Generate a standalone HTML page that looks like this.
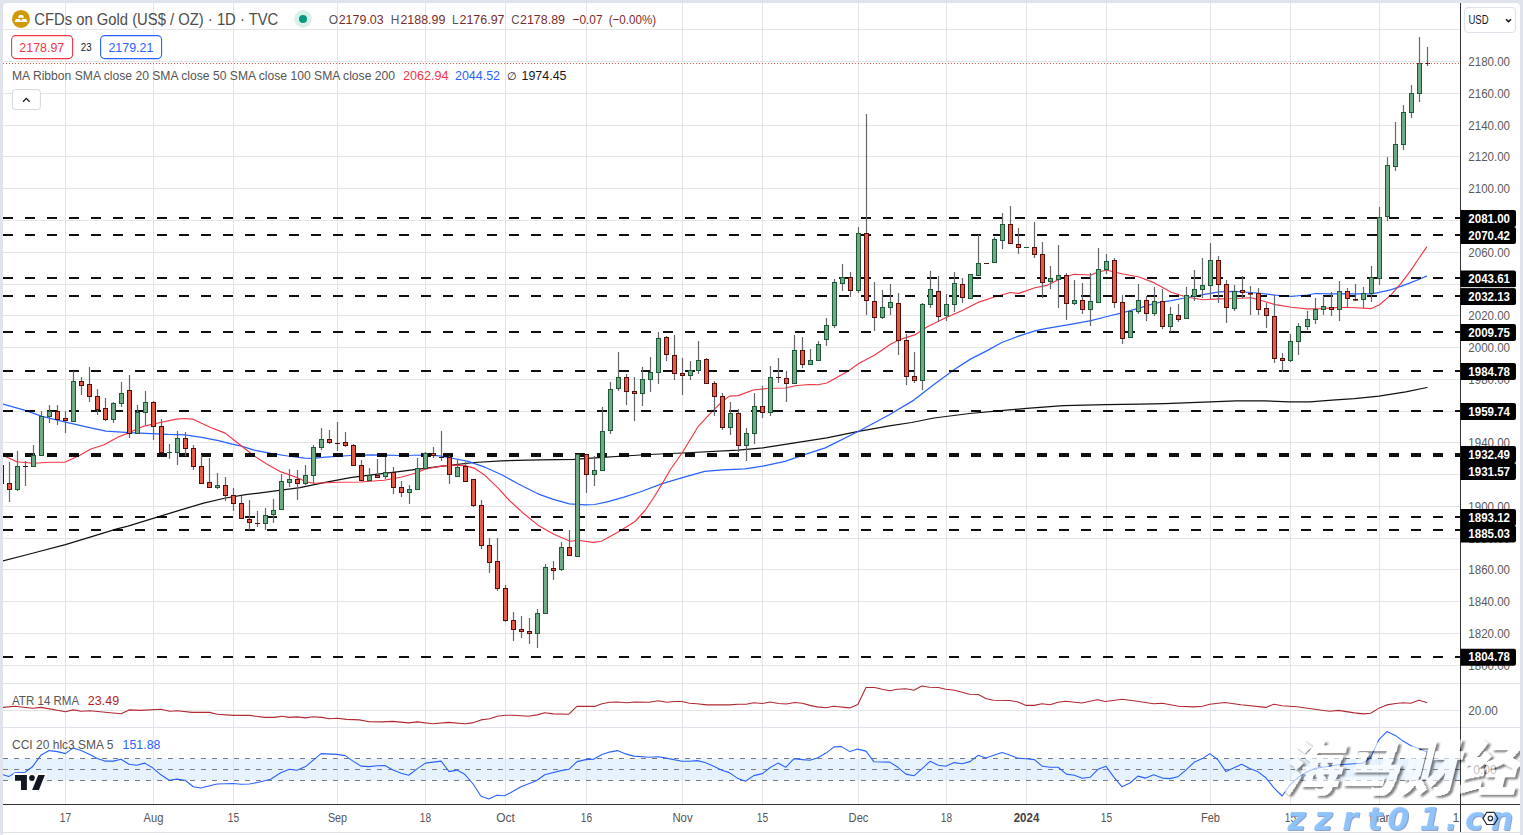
<!DOCTYPE html>
<html lang="en"><head><meta charset="utf-8"><title>CFDs on Gold (US$ / OZ) 1D TVC</title>
<style>html,body{margin:0;padding:0;background:#e0e3eb;width:1523px;height:835px;overflow:hidden}svg{display:block}</style></head>
<body>
<svg width="1523" height="835" viewBox="0 0 1523 835" font-family='"Liberation Sans", Arial, sans-serif'>
<defs><clipPath id="cp"><rect x="3" y="3" width="1457.5" height="801.5"/></clipPath><clipPath id="cw"><rect x="3" y="3" width="1517" height="832"/></clipPath></defs>
<rect width="1523" height="835" fill="#e0e3eb"/>
<path d="M3 835V7a4 4 0 0 1 4-4H1516a4 4 0 0 1 4 4V835z" fill="#fff"/>
<line x1="3" y1="832.5" x2="1520" y2="832.5" stroke="#e0e3eb" stroke-width="1.2"/>
<g stroke="#e5e5e5" stroke-width="1" clip-path="url(#cp)">
<line x1="65.5" y1="3" x2="65.5" y2="804.5"/>
<line x1="153.5" y1="3" x2="153.5" y2="804.5"/>
<line x1="233.5" y1="3" x2="233.5" y2="804.5"/>
<line x1="337.5" y1="3" x2="337.5" y2="804.5"/>
<line x1="425.5" y1="3" x2="425.5" y2="804.5"/>
<line x1="505.5" y1="3" x2="505.5" y2="804.5"/>
<line x1="586.5" y1="3" x2="586.5" y2="804.5"/>
<line x1="682.5" y1="3" x2="682.5" y2="804.5"/>
<line x1="762.5" y1="3" x2="762.5" y2="804.5"/>
<line x1="858.5" y1="3" x2="858.5" y2="804.5"/>
<line x1="946.5" y1="3" x2="946.5" y2="804.5"/>
<line x1="1026.5" y1="3" x2="1026.5" y2="804.5"/>
<line x1="1106.5" y1="3" x2="1106.5" y2="804.5"/>
<line x1="1210.5" y1="3" x2="1210.5" y2="804.5"/>
<line x1="1290.5" y1="3" x2="1290.5" y2="804.5"/>
<line x1="1379.5" y1="3" x2="1379.5" y2="804.5"/>
<line x1="3" y1="665.5" x2="1460.5" y2="665.5"/>
<line x1="3" y1="633.5" x2="1460.5" y2="633.5"/>
<line x1="3" y1="601.5" x2="1460.5" y2="601.5"/>
<line x1="3" y1="569.5" x2="1460.5" y2="569.5"/>
<line x1="3" y1="538.5" x2="1460.5" y2="538.5"/>
<line x1="3" y1="506.5" x2="1460.5" y2="506.5"/>
<line x1="3" y1="474.5" x2="1460.5" y2="474.5"/>
<line x1="3" y1="442.5" x2="1460.5" y2="442.5"/>
<line x1="3" y1="411.5" x2="1460.5" y2="411.5"/>
<line x1="3" y1="379.5" x2="1460.5" y2="379.5"/>
<line x1="3" y1="347.5" x2="1460.5" y2="347.5"/>
<line x1="3" y1="315.5" x2="1460.5" y2="315.5"/>
<line x1="3" y1="284.5" x2="1460.5" y2="284.5"/>
<line x1="3" y1="252.5" x2="1460.5" y2="252.5"/>
<line x1="3" y1="220.5" x2="1460.5" y2="220.5"/>
<line x1="3" y1="188.5" x2="1460.5" y2="188.5"/>
<line x1="3" y1="156.5" x2="1460.5" y2="156.5"/>
<line x1="3" y1="125.5" x2="1460.5" y2="125.5"/>
<line x1="3" y1="93.5" x2="1460.5" y2="93.5"/>
<line x1="3" y1="61.5" x2="1460.5" y2="61.5"/>
<line x1="3" y1="29.5" x2="1460.5" y2="29.5"/>
<line x1="3" y1="710.5" x2="1460.5" y2="710.5"/>
</g>
<rect x="3" y="758.6" width="1457.5" height="21.7" fill="#e6f2fd"/>
<g stroke="#787b86" stroke-width="1" stroke-dasharray="5 6" clip-path="url(#cp)">
<line x1="3" y1="758.5" x2="1460.5" y2="758.5"/>
<line x1="3" y1="769.5" x2="1460.5" y2="769.5"/>
<line x1="3" y1="780.5" x2="1460.5" y2="780.5"/>
</g>
<g stroke="#d9dde3" stroke-width="1" opacity="0.7">
<line x1="65.5" y1="758.6" x2="65.5" y2="780.3"/>
<line x1="153.5" y1="758.6" x2="153.5" y2="780.3"/>
<line x1="233.5" y1="758.6" x2="233.5" y2="780.3"/>
<line x1="337.5" y1="758.6" x2="337.5" y2="780.3"/>
<line x1="425.5" y1="758.6" x2="425.5" y2="780.3"/>
<line x1="505.5" y1="758.6" x2="505.5" y2="780.3"/>
<line x1="586.5" y1="758.6" x2="586.5" y2="780.3"/>
<line x1="682.5" y1="758.6" x2="682.5" y2="780.3"/>
<line x1="762.5" y1="758.6" x2="762.5" y2="780.3"/>
<line x1="858.5" y1="758.6" x2="858.5" y2="780.3"/>
<line x1="946.5" y1="758.6" x2="946.5" y2="780.3"/>
<line x1="1026.5" y1="758.6" x2="1026.5" y2="780.3"/>
<line x1="1106.5" y1="758.6" x2="1106.5" y2="780.3"/>
<line x1="1210.5" y1="758.6" x2="1210.5" y2="780.3"/>
<line x1="1290.5" y1="758.6" x2="1290.5" y2="780.3"/>
<line x1="1379.5" y1="758.6" x2="1379.5" y2="780.3"/>
</g>
<g stroke="#e0e3eb" stroke-width="1.2"><line x1="3" y1="683.5" x2="1520" y2="683.5"/><line x1="3" y1="727.5" x2="1520" y2="727.5"/></g>
<g clip-path="url(#cp)">
<path d="M2.9 560.8 L33.5 553.0 L65.4 544.7 L89.3 537.3 L116.1 529.1 L128.0 526.1 L153.2 518.4 L178.4 510.6 L203.6 503.2 L225.5 498.0 L245.7 494.6 L256.7 493.3 L279.3 490.4 L300.0 487.7 L325.2 482.4 L350.4 477.7 L375.6 474.3 L400.9 471.4 L426.1 468.1 L451.3 465.1 L474.1 462.5 L501.7 460.9 L526.9 460.2 L556.0 459.7 L573.6 459.3 L598.8 457.6 L624.0 456.0 L649.2 454.5 L682.4 453.0 L738.2 450.1 L762.8 447.9 L796.3 442.6 L826.8 437.8 L858.5 431.4 L889.3 425.8 L911.6 422.5 L934.0 418.0 L969.7 413.5 L1000.9 410.6 L1026.6 408.4 L1063.4 405.7 L1105.9 404.6 L1140.0 404.2 L1164.7 403.6 L1210.4 401.8 L1236.1 400.9 L1265.1 400.9 L1289.7 401.8 L1309.8 401.8 L1332.1 400.2 L1354.4 398.7 L1379.0 396.2 L1405.8 391.8 L1427.0 387.5" fill="none" stroke="#111" stroke-width="1.25" stroke-linejoin="round" stroke-linecap="round" />
<path d="M3.0 404.2 L25.2 410.4 L42.0 416.3 L65.6 422.2 L87.4 427.2 L105.9 431.1 L129.4 432.6 L151.3 433.6 L168.1 434.4 L184.9 434.8 L201.7 437.3 L218.5 440.6 L232.2 444.2 L241.6 446.2 L254.1 450.1 L270.9 453.4 L287.7 456.0 L304.5 458.2 L312.9 458.4 L325.2 457.2 L350.4 455.5 L370.6 454.8 L384.0 455.2 L400.9 455.5 L426.1 455.0 L439.5 455.8 L451.3 458.0 L468.1 461.4 L484.9 467.2 L501.7 474.8 L518.5 484.0 L535.3 492.5 L540.0 494.6 L552.6 499.2 L569.4 503.9 L586.2 504.9 L594.6 504.5 L607.2 501.8 L624.0 497.1 L640.0 492.0 L662.3 483.6 L682.4 477.6 L704.7 471.4 L722.6 469.8 L744.9 468.8 L762.8 466.2 L785.1 461.3 L803.0 455.1 L825.3 447.9 L858.6 431.3 L889.3 414.7 L913.9 400.1 L934.0 384.5 L954.7 369.3 L970.9 358.9 L986.7 350.9 L1001.8 342.5 L1018.6 336.2 L1034.9 330.8 L1046.8 328.3 L1072.0 324.1 L1091.0 320.7 L1107.0 316.5 L1123.1 312.7 L1139.1 308.1 L1155.1 303.1 L1171.2 300.6 L1187.2 297.5 L1203.1 294.7 L1219.1 291.8 L1235.2 291.3 L1251.2 292.5 L1267.2 294.2 L1275.3 295.1 L1291.3 296.3 L1307.4 295.0 L1315.3 293.5 L1331.4 293.8 L1355.5 293.8 L1371.4 293.8 L1379.5 292.4 L1391.3 289.6 L1401.4 286.2 L1411.5 282.4 L1419.9 279.0 L1426.6 276.1" fill="none" stroke="#2962ff" stroke-width="1.25" stroke-linejoin="round" stroke-linecap="round" />
<path d="M3.0 455.3 L16.8 461.7 L33.6 463.3 L50.4 462.2 L64.7 462.2 L79.0 455.8 L90.8 449.0 L104.2 444.8 L117.7 437.3 L129.4 432.6 L142.9 426.4 L161.5 422.2 L176.5 419.1 L184.9 418.5 L192.5 419.1 L210.1 427.2 L225.2 433.1 L233.9 440.0 L245.7 449.2 L254.1 456.0 L267.5 464.4 L281.0 471.9 L296.1 477.3 L306.2 481.7 L313.4 483.2 L337.8 482.2 L360.0 482.0 L384.0 480.2 L400.9 477.3 L414.3 473.5 L426.1 468.9 L439.5 466.4 L451.3 465.1 L464.7 465.6 L474.1 468.1 L484.9 475.3 L498.4 488.3 L508.9 500.0 L524.0 513.8 L539.2 526.1 L554.3 534.5 L570.3 541.2 L577.8 540.3 L593.0 542.4 L601.4 541.2 L618.2 531.9 L635.0 521.5 L645.0 510.5 L653.5 498.0 L662.3 483.6 L670.1 470.0 L682.4 452.5 L698.0 426.7 L711.3 412.4 L721.4 402.3 L729.4 396.1 L738.2 395.6 L753.3 390.0 L770.1 388.3 L785.2 388.0 L795.3 385.8 L808.8 384.5 L817.9 384.8 L826.8 383.0 L848.8 370.7 L858.6 363.5 L874.0 355.6 L890.9 344.1 L898.8 339.9 L914.7 334.9 L927.8 326.5 L946.8 317.2 L962.8 310.2 L978.9 302.1 L995.1 296.7 L1010.2 292.5 L1018.9 293.4 L1034.9 287.8 L1046.8 285.4 L1058.9 279.5 L1073.7 274.2 L1091.0 275.0 L1099.1 271.6 L1107.0 270.3 L1123.1 274.0 L1139.1 277.0 L1154.4 282.9 L1171.2 292.2 L1187.2 297.2 L1203.1 299.7 L1219.1 298.9 L1235.2 298.5 L1251.2 297.7 L1259.3 300.0 L1275.3 304.6 L1291.3 307.2 L1307.4 308.9 L1323.4 308.6 L1339.3 307.2 L1355.5 307.7 L1371.4 308.6 L1379.5 304.7 L1391.3 294.6 L1401.4 282.9 L1411.5 269.4 L1419.9 256.8 L1426.6 247.2" fill="none" stroke="#f23645" stroke-width="1.15" stroke-linejoin="round" stroke-linecap="round" />
<path d="M3.2 707.4 L15.0 706.2 L32.4 708.2 L41.2 707.4 L65.4 711.7 L73.1 709.9 L81.1 711.2 L89.8 710.7 L121.0 713.7 L129.0 709.9 L139.7 710.4 L160.9 709.2 L169.7 711.2 L177.1 710.7 L192.1 712.4 L209.6 712.4 L217.1 714.2 L233.3 715.4 L249.5 715.4 L264.5 717.4 L274.5 717.4 L281.9 716.2 L289.4 717.4 L296.9 716.9 L305.6 717.9 L313.1 716.7 L321.9 717.4 L329.3 718.7 L336.8 718.2 L346.8 719.4 L359.3 719.9 L369.3 721.7 L382.5 721.9 L392.5 721.4 L408.7 722.9 L417.4 721.9 L432.4 723.7 L448.6 722.4 L464.8 723.7 L472.3 722.9 L481.0 719.9 L489.8 718.7 L497.2 716.2 L506.0 715.2 L513.5 715.2 L528.4 716.2 L537.2 714.9 L544.7 712.7 L553.4 713.9 L568.9 714.2 L577.1 706.2 L594.6 706.4 L602.0 703.7 L609.5 702.2 L617.0 702.0 L627.0 702.7 L634.5 702.0 L649.4 702.2 L658.2 700.7 L666.9 702.2 L674.4 701.5 L681.9 701.5 L689.4 703.2 L696.8 703.7 L706.8 704.9 L719.3 704.7 L729.3 704.9 L738.0 704.2 L746.2 704.2 L753.7 702.7 L762.5 703.5 L769.9 702.0 L778.7 703.5 L786.2 704.0 L794.9 702.5 L802.4 703.2 L809.9 705.4 L817.3 706.9 L826.1 707.7 L833.6 706.2 L849.8 707.9 L857.8 704.5 L866.0 687.5 L874.7 687.5 L882.2 689.2 L889.7 690.7 L897.2 689.2 L905.9 688.7 L913.9 690.2 L921.6 686.0 L929.6 687.2 L938.3 687.5 L945.8 689.2 L954.6 690.2 L969.5 694.2 L978.3 694.5 L985.8 698.5 L993.2 700.2 L1009.5 700.5 L1017.4 701.7 L1026.2 705.4 L1034.4 705.4 L1041.9 703.7 L1050.1 704.7 L1058.1 702.2 L1065.6 701.2 L1081.8 703.0 L1097.3 699.7 L1105.5 701.5 L1122.0 699.2 L1137.4 701.2 L1153.6 703.7 L1162.4 703.2 L1178.6 706.2 L1193.6 706.9 L1202.3 706.2 L1209.8 704.2 L1224.8 702.5 L1241.0 704.7 L1265.9 707.4 L1273.9 704.2 L1282.1 705.7 L1297.1 706.7 L1314.6 709.2 L1329.5 711.2 L1338.3 710.4 L1354.5 712.9 L1363.2 713.9 L1370.7 713.2 L1379.4 707.9 L1386.9 704.9 L1395.7 703.5 L1403.1 702.7 L1410.6 703.2 L1418.9 700.2 L1426.8 702.5" fill="none" stroke="#b22833" stroke-width="1.1" stroke-linejoin="round" stroke-linecap="round" />
<path d="M3.2 774.8 L8.7 776.6 L15.0 772.8 L25.0 772.3 L32.4 766.8 L41.2 754.9 L49.2 750.6 L57.4 751.6 L65.4 753.6 L73.1 747.9 L81.1 750.4 L89.8 754.4 L97.3 758.6 L104.8 761.1 L113.5 761.1 L121.0 759.3 L129.0 764.3 L136.7 765.3 L144.7 763.1 L152.7 767.8 L160.9 774.8 L169.2 780.3 L177.1 779.1 L185.1 780.3 L193.4 786.8 L200.8 788.0 L217.1 784.0 L233.3 783.5 L240.8 784.3 L249.5 784.0 L260.7 781.8 L270.7 779.3 L280.7 772.8 L289.4 769.3 L296.9 770.3 L305.6 766.6 L321.1 753.6 L336.8 754.4 L345.1 755.6 L353.0 761.1 L361.0 766.1 L369.3 766.6 L377.5 765.8 L385.0 765.6 L392.5 769.8 L401.2 773.3 L408.7 775.3 L417.4 768.6 L425.4 763.1 L441.1 761.1 L449.1 771.6 L456.8 770.1 L464.8 774.3 L472.8 783.5 L481.0 796.3 L489.0 799.0 L496.7 795.3 L504.7 795.8 L512.7 791.5 L520.9 786.8 L536.4 780.8 L544.7 774.8 L560.9 770.6 L568.9 769.3 L577.1 761.6 L585.8 759.6 L593.8 759.1 L602.0 754.6 L609.5 752.1 L617.5 750.6 L625.7 753.9 L633.7 756.1 L649.4 757.3 L658.2 756.8 L666.2 758.1 L681.9 761.3 L689.4 761.3 L697.3 760.6 L705.6 762.8 L714.3 766.6 L721.8 770.3 L729.3 772.6 L738.0 778.6 L745.5 781.2 L753.7 775.6 L762.5 773.6 L769.9 767.8 L777.9 763.1 L785.7 767.3 L794.1 758.6 L802.4 759.6 L809.9 760.3 L817.8 757.8 L826.1 753.1 L834.1 746.9 L841.5 746.6 L849.8 751.6 L857.8 749.1 L866.0 751.1 L874.0 761.8 L889.7 762.1 L897.9 767.3 L905.9 774.1 L913.9 775.8 L921.6 769.1 L930.1 761.3 L938.3 765.3 L945.8 766.3 L954.1 762.6 L962.1 763.8 L970.0 761.6 L978.3 755.3 L985.8 758.1 L1002.0 752.4 L1009.5 754.9 L1017.4 758.1 L1026.2 758.8 L1034.4 759.6 L1042.4 766.3 L1050.1 767.3 L1058.1 767.3 L1066.4 774.1 L1074.3 775.3 L1082.3 778.3 L1090.0 777.3 L1098.0 769.3 L1106.0 766.3 L1113.7 776.8 L1122.0 786.8 L1129.9 783.0 L1137.9 776.1 L1145.7 778.1 L1153.6 774.8 L1162.4 778.1 L1169.9 778.6 L1177.8 776.8 L1186.1 769.8 L1194.1 762.3 L1202.3 758.6 L1209.8 753.6 L1217.8 759.8 L1226.0 771.6 L1241.7 764.3 L1249.7 768.6 L1257.7 771.6 L1265.9 777.8 L1273.9 787.8 L1282.1 796.0 L1290.1 784.8 L1298.4 777.3 L1306.3 772.3 L1314.6 768.6 L1322.1 767.3 L1338.3 764.8 L1354.5 763.8 L1363.2 763.1 L1370.7 757.3 L1378.7 739.9 L1386.9 731.6 L1395.2 735.4 L1403.1 741.1 L1410.6 745.4 L1418.9 748.6 L1426.8 751.9" fill="none" stroke="#2962ff" stroke-width="1.1" stroke-linejoin="round" stroke-linecap="round" />
</g>
<g stroke="#000" stroke-opacity="0.94" stroke-dasharray="10 12" clip-path="url(#cp)">
<line x1="3" y1="218" x2="1460.5" y2="218" stroke-width="2"/>
<line x1="3" y1="235" x2="1460.5" y2="235" stroke-width="2"/>
<line x1="3" y1="278" x2="1460.5" y2="278" stroke-width="2"/>
<line x1="3" y1="296" x2="1460.5" y2="296" stroke-width="2"/>
<line x1="3" y1="332" x2="1460.5" y2="332" stroke-width="2"/>
<line x1="3" y1="371" x2="1460.5" y2="371" stroke-width="2"/>
<line x1="3" y1="411" x2="1460.5" y2="411" stroke-width="2"/>
<line x1="3" y1="455" x2="1460.5" y2="455" stroke-width="4"/>
<line x1="3" y1="517" x2="1460.5" y2="517" stroke-width="2"/>
<line x1="3" y1="530" x2="1460.5" y2="530" stroke-width="2"/>
<line x1="3" y1="657" x2="1460.5" y2="657" stroke-width="2"/>
</g>
<g clip-path="url(#cp)">
<path d="M1.5 462V486M9.5 462V502M17.5 451V491M25.5 461V486M33.5 445V467M41.5 411V456M49.5 405V423M57.5 405V425M65.5 411V433M73.5 371V422M81.5 377V395M89.5 367V402M97.5 389V415M105.5 398V421M113.5 402V423M121.5 382V407M129.5 375V438M137.5 405V434M145.5 391V425M153.5 401V440M161.5 419V453M169.5 444V459M177.5 431V465M185.5 432V456M193.5 445V470M201.5 455V484M209.5 458V488M217.5 473V489M225.5 477V501M233.5 488V511M241.5 496V519M249.5 500V530M257.5 511V527M265.5 508V530M273.5 499V523M281.5 474V510M289.5 469V487M297.5 470V500M305.5 465V485M313.5 445V483M321.5 428V450M329.5 430V444M337.5 422V451M345.5 432V447M353.5 444V466M361.5 460V481M369.5 468V481M377.5 459V478M385.5 457V479M393.5 467V494M401.5 481V497M409.5 485V504M417.5 458V490M425.5 452V469M433.5 447V458M441.5 431V461M449.5 456V484M457.5 460V477M465.5 462V482M473.5 479V507M481.5 500V549M489.5 538V573M497.5 538V591M505.5 585V622M513.5 612V641M521.5 616V638M529.5 618V644M537.5 609V648M545.5 564V614M553.5 561V580M561.5 542V571M569.5 530V556M577.5 454V557M586.5 454V493M594.5 456V486M602.5 407V471M610.5 382V434M618.5 352V391M626.5 374V405M634.5 377V421M642.5 367V406M650.5 357V392M658.5 332V384M666.5 336V361M674.5 335V380M682.5 358V395M690.5 361V380M698.5 341V374M706.5 358V384M714.5 381V416M722.5 393V430M730.5 402V435M738.5 409V452M746.5 428V461M754.5 393V444M762.5 386V418M770.5 366V416M778.5 358V383M786.5 371V402M794.5 335V384M802.5 337V368M810.5 349V365M818.5 341V361M826.5 318V346M834.5 279V328M842.5 264V291M850.5 272V297M858.5 227V293M866.5 114V315M874.5 282V331M882.5 290V319M890.5 284V315M898.5 293V355M906.5 334V385M914.5 352V383M922.5 303V390M930.5 271V308M938.5 276V322M946.5 294V321M954.5 272V312M962.5 278V303M970.5 274V299M978.5 235V276M986.5 263V264M994.5 237V263M1002.5 213V249M1010.5 206V244M1018.5 228V254M1026.5 247V248M1034.5 222V258M1042.5 242V298M1050.5 266V289M1058.5 245V308M1066.5 273V320M1074.5 280V305M1082.5 283V314M1090.5 273V326M1098.5 248V303M1106.5 254V274M1114.5 258V308M1122.5 295V344M1130.5 311V338M1138.5 284V314M1146.5 296V321M1154.5 287V316M1162.5 289V329M1170.5 307V332M1178.5 304V322M1186.5 287V319M1194.5 270V301M1202.5 258V298M1210.5 243V299M1218.5 256V303M1226.5 280V323M1234.5 285V311M1242.5 276V298M1250.5 286V315M1258.5 288V315M1266.5 303V328M1274.5 295V363M1282.5 353V372M1290.5 334V362M1298.5 323V355M1307.5 311V330M1315.5 298V324M1323.5 296V315M1331.5 292V316M1339.5 281V321M1347.5 288V307M1355.5 284V301M1363.5 287V308M1371.5 266V302M1379.5 207V285M1387.5 157V221M1395.5 122V171M1403.5 105V150M1411.5 85V118M1419.5 37V102M1427.5 47V66" stroke="#64686c" stroke-width="1.2" fill="none"/>
<rect x="-0.5" y="465.5" width="4" height="18" fill="#e35b47" stroke="#550d0b" stroke-width="1"/><rect x="7.5" y="483.5" width="4" height="6" fill="#e35b47" stroke="#550d0b" stroke-width="1"/><rect x="15.5" y="466.5" width="4" height="23" fill="#6fa985" stroke="#1c5a36" stroke-width="1"/><rect x="23.0" y="466" width="5" height="1" fill="#550d0b"/><rect x="31.5" y="455.5" width="4" height="11" fill="#6fa985" stroke="#1c5a36" stroke-width="1"/><rect x="39.5" y="416.5" width="4" height="39" fill="#6fa985" stroke="#1c5a36" stroke-width="1"/><rect x="47.5" y="411.5" width="4" height="5" fill="#6fa985" stroke="#1c5a36" stroke-width="1"/><rect x="55.5" y="411.5" width="4" height="8" fill="#e35b47" stroke="#550d0b" stroke-width="1"/><rect x="63.5" y="418.5" width="4" height="2" fill="#e35b47" stroke="#550d0b" stroke-width="1"/><rect x="71.5" y="381.5" width="4" height="40" fill="#6fa985" stroke="#1c5a36" stroke-width="1"/><rect x="79.5" y="381.5" width="4" height="4" fill="#e35b47" stroke="#550d0b" stroke-width="1"/><rect x="87.5" y="384.5" width="4" height="12" fill="#e35b47" stroke="#550d0b" stroke-width="1"/><rect x="95.5" y="396.5" width="4" height="13" fill="#e35b47" stroke="#550d0b" stroke-width="1"/><rect x="103.5" y="408.5" width="4" height="11" fill="#e35b47" stroke="#550d0b" stroke-width="1"/><rect x="111.5" y="403.5" width="4" height="16" fill="#6fa985" stroke="#1c5a36" stroke-width="1"/><rect x="119.5" y="393.5" width="4" height="10" fill="#6fa985" stroke="#1c5a36" stroke-width="1"/><rect x="127.5" y="390.5" width="4" height="43" fill="#e35b47" stroke="#550d0b" stroke-width="1"/><rect x="135.5" y="412.5" width="4" height="21" fill="#6fa985" stroke="#1c5a36" stroke-width="1"/><rect x="143.5" y="402.5" width="4" height="10" fill="#6fa985" stroke="#1c5a36" stroke-width="1"/><rect x="151.5" y="402.5" width="4" height="24" fill="#e35b47" stroke="#550d0b" stroke-width="1"/><rect x="159.5" y="426.5" width="4" height="26" fill="#e35b47" stroke="#550d0b" stroke-width="1"/><rect x="167.0" y="452" width="5" height="1" fill="#1c5a36"/><rect x="175.5" y="438.5" width="4" height="14" fill="#6fa985" stroke="#1c5a36" stroke-width="1"/><rect x="183.5" y="438.5" width="4" height="10" fill="#e35b47" stroke="#550d0b" stroke-width="1"/><rect x="191.5" y="448.5" width="4" height="18" fill="#e35b47" stroke="#550d0b" stroke-width="1"/><rect x="199.5" y="466.5" width="4" height="17" fill="#e35b47" stroke="#550d0b" stroke-width="1"/><rect x="207.5" y="482.5" width="4" height="5" fill="#e35b47" stroke="#550d0b" stroke-width="1"/><rect x="215.5" y="485.5" width="4" height="2" fill="#6fa985" stroke="#1c5a36" stroke-width="1"/><rect x="223.5" y="485.5" width="4" height="10" fill="#e35b47" stroke="#550d0b" stroke-width="1"/><rect x="231.5" y="495.5" width="4" height="8" fill="#e35b47" stroke="#550d0b" stroke-width="1"/><rect x="239.5" y="503.5" width="4" height="15" fill="#e35b47" stroke="#550d0b" stroke-width="1"/><rect x="247.5" y="519.5" width="4" height="3" fill="#e35b47" stroke="#550d0b" stroke-width="1"/><rect x="255.0" y="523" width="5" height="1" fill="#550d0b"/><rect x="263.5" y="515.5" width="4" height="8" fill="#6fa985" stroke="#1c5a36" stroke-width="1"/><rect x="271.5" y="510.5" width="4" height="4" fill="#6fa985" stroke="#1c5a36" stroke-width="1"/><rect x="279.5" y="481.5" width="4" height="28" fill="#6fa985" stroke="#1c5a36" stroke-width="1"/><rect x="287.5" y="479.5" width="4" height="3" fill="#6fa985" stroke="#1c5a36" stroke-width="1"/><rect x="295.5" y="479.5" width="4" height="4" fill="#e35b47" stroke="#550d0b" stroke-width="1"/><rect x="303.5" y="475.5" width="4" height="8" fill="#6fa985" stroke="#1c5a36" stroke-width="1"/><rect x="311.5" y="447.5" width="4" height="28" fill="#6fa985" stroke="#1c5a36" stroke-width="1"/><rect x="319.5" y="439.5" width="4" height="8" fill="#6fa985" stroke="#1c5a36" stroke-width="1"/><rect x="327.5" y="439.5" width="4" height="3" fill="#e35b47" stroke="#550d0b" stroke-width="1"/><rect x="335.0" y="443" width="5" height="1" fill="#550d0b"/><rect x="343.5" y="442.5" width="4" height="3" fill="#e35b47" stroke="#550d0b" stroke-width="1"/><rect x="351.5" y="445.5" width="4" height="20" fill="#e35b47" stroke="#550d0b" stroke-width="1"/><rect x="359.5" y="465.5" width="4" height="15" fill="#e35b47" stroke="#550d0b" stroke-width="1"/><rect x="367.5" y="475.5" width="4" height="5" fill="#6fa985" stroke="#1c5a36" stroke-width="1"/><rect x="375.5" y="475.5" width="4" height="2" fill="#e35b47" stroke="#550d0b" stroke-width="1"/><rect x="383.5" y="472.5" width="4" height="4" fill="#6fa985" stroke="#1c5a36" stroke-width="1"/><rect x="391.5" y="472.5" width="4" height="15" fill="#e35b47" stroke="#550d0b" stroke-width="1"/><rect x="399.5" y="487.5" width="4" height="5" fill="#e35b47" stroke="#550d0b" stroke-width="1"/><rect x="407.5" y="489.5" width="4" height="3" fill="#6fa985" stroke="#1c5a36" stroke-width="1"/><rect x="415.5" y="468.5" width="4" height="21" fill="#6fa985" stroke="#1c5a36" stroke-width="1"/><rect x="423.5" y="453.5" width="4" height="15" fill="#6fa985" stroke="#1c5a36" stroke-width="1"/><rect x="431.5" y="453.5" width="4" height="2" fill="#e35b47" stroke="#550d0b" stroke-width="1"/><rect x="439.0" y="457" width="5" height="1" fill="#550d0b"/><rect x="447.5" y="457.5" width="4" height="17" fill="#e35b47" stroke="#550d0b" stroke-width="1"/><rect x="455.5" y="467.5" width="4" height="9" fill="#6fa985" stroke="#1c5a36" stroke-width="1"/><rect x="463.5" y="466.5" width="4" height="15" fill="#e35b47" stroke="#550d0b" stroke-width="1"/><rect x="471.5" y="479.5" width="4" height="26" fill="#e35b47" stroke="#550d0b" stroke-width="1"/><rect x="479.5" y="505.5" width="4" height="40" fill="#e35b47" stroke="#550d0b" stroke-width="1"/><rect x="487.5" y="545.5" width="4" height="17" fill="#e35b47" stroke="#550d0b" stroke-width="1"/><rect x="495.5" y="561.5" width="4" height="27" fill="#e35b47" stroke="#550d0b" stroke-width="1"/><rect x="503.5" y="588.5" width="4" height="32" fill="#e35b47" stroke="#550d0b" stroke-width="1"/><rect x="511.5" y="620.5" width="4" height="9" fill="#e35b47" stroke="#550d0b" stroke-width="1"/><rect x="519.5" y="629.5" width="4" height="2" fill="#e35b47" stroke="#550d0b" stroke-width="1"/><rect x="527.5" y="631.5" width="4" height="2" fill="#e35b47" stroke="#550d0b" stroke-width="1"/><rect x="535.5" y="613.5" width="4" height="20" fill="#6fa985" stroke="#1c5a36" stroke-width="1"/><rect x="543.5" y="567.5" width="4" height="46" fill="#6fa985" stroke="#1c5a36" stroke-width="1"/><rect x="551.5" y="568.5" width="4" height="2" fill="#e35b47" stroke="#550d0b" stroke-width="1"/><rect x="559.5" y="547.5" width="4" height="22" fill="#6fa985" stroke="#1c5a36" stroke-width="1"/><rect x="567.5" y="547.5" width="4" height="8" fill="#e35b47" stroke="#550d0b" stroke-width="1"/><rect x="575.5" y="454.5" width="4" height="102" fill="#6fa985" stroke="#1c5a36" stroke-width="1"/><rect x="584.5" y="454.5" width="4" height="20" fill="#e35b47" stroke="#550d0b" stroke-width="1"/><rect x="592.5" y="470.5" width="4" height="4" fill="#6fa985" stroke="#1c5a36" stroke-width="1"/><rect x="600.5" y="431.5" width="4" height="39" fill="#6fa985" stroke="#1c5a36" stroke-width="1"/><rect x="608.5" y="389.5" width="4" height="41" fill="#6fa985" stroke="#1c5a36" stroke-width="1"/><rect x="616.5" y="377.5" width="4" height="11" fill="#6fa985" stroke="#1c5a36" stroke-width="1"/><rect x="624.5" y="377.5" width="4" height="14" fill="#e35b47" stroke="#550d0b" stroke-width="1"/><rect x="632.5" y="391.5" width="4" height="2" fill="#e35b47" stroke="#550d0b" stroke-width="1"/><rect x="640.5" y="379.5" width="4" height="14" fill="#6fa985" stroke="#1c5a36" stroke-width="1"/><rect x="648.5" y="372.5" width="4" height="7" fill="#6fa985" stroke="#1c5a36" stroke-width="1"/><rect x="656.5" y="338.5" width="4" height="34" fill="#6fa985" stroke="#1c5a36" stroke-width="1"/><rect x="664.5" y="337.5" width="4" height="17" fill="#e35b47" stroke="#550d0b" stroke-width="1"/><rect x="672.5" y="355.5" width="4" height="18" fill="#e35b47" stroke="#550d0b" stroke-width="1"/><rect x="680.5" y="373.5" width="4" height="2" fill="#e35b47" stroke="#550d0b" stroke-width="1"/><rect x="688.5" y="370.5" width="4" height="5" fill="#6fa985" stroke="#1c5a36" stroke-width="1"/><rect x="696.5" y="360.5" width="4" height="10" fill="#6fa985" stroke="#1c5a36" stroke-width="1"/><rect x="704.5" y="359.5" width="4" height="24" fill="#e35b47" stroke="#550d0b" stroke-width="1"/><rect x="712.5" y="383.5" width="4" height="13" fill="#e35b47" stroke="#550d0b" stroke-width="1"/><rect x="720.5" y="396.5" width="4" height="31" fill="#e35b47" stroke="#550d0b" stroke-width="1"/><rect x="728.5" y="413.5" width="4" height="14" fill="#6fa985" stroke="#1c5a36" stroke-width="1"/><rect x="736.5" y="413.5" width="4" height="32" fill="#e35b47" stroke="#550d0b" stroke-width="1"/><rect x="744.5" y="433.5" width="4" height="12" fill="#6fa985" stroke="#1c5a36" stroke-width="1"/><rect x="752.5" y="406.5" width="4" height="27" fill="#6fa985" stroke="#1c5a36" stroke-width="1"/><rect x="760.5" y="406.5" width="4" height="6" fill="#e35b47" stroke="#550d0b" stroke-width="1"/><rect x="768.5" y="377.5" width="4" height="35" fill="#6fa985" stroke="#1c5a36" stroke-width="1"/><rect x="776.0" y="377" width="5" height="1" fill="#550d0b"/><rect x="784.5" y="378.5" width="4" height="5" fill="#e35b47" stroke="#550d0b" stroke-width="1"/><rect x="792.5" y="350.5" width="4" height="33" fill="#6fa985" stroke="#1c5a36" stroke-width="1"/><rect x="800.5" y="350.5" width="4" height="14" fill="#e35b47" stroke="#550d0b" stroke-width="1"/><rect x="808.5" y="360.5" width="4" height="4" fill="#6fa985" stroke="#1c5a36" stroke-width="1"/><rect x="816.5" y="344.5" width="4" height="16" fill="#6fa985" stroke="#1c5a36" stroke-width="1"/><rect x="824.5" y="325.5" width="4" height="14" fill="#6fa985" stroke="#1c5a36" stroke-width="1"/><rect x="832.5" y="282.5" width="4" height="43" fill="#6fa985" stroke="#1c5a36" stroke-width="1"/><rect x="840.5" y="277.5" width="4" height="6" fill="#6fa985" stroke="#1c5a36" stroke-width="1"/><rect x="848.5" y="277.5" width="4" height="13" fill="#e35b47" stroke="#550d0b" stroke-width="1"/><rect x="856.5" y="233.5" width="4" height="57" fill="#6fa985" stroke="#1c5a36" stroke-width="1"/><rect x="864.5" y="233.5" width="4" height="67" fill="#e35b47" stroke="#550d0b" stroke-width="1"/><rect x="872.5" y="301.5" width="4" height="16" fill="#e35b47" stroke="#550d0b" stroke-width="1"/><rect x="880.5" y="307.5" width="4" height="10" fill="#6fa985" stroke="#1c5a36" stroke-width="1"/><rect x="888.5" y="302.5" width="4" height="5" fill="#6fa985" stroke="#1c5a36" stroke-width="1"/><rect x="896.5" y="303.5" width="4" height="37" fill="#e35b47" stroke="#550d0b" stroke-width="1"/><rect x="904.5" y="340.5" width="4" height="36" fill="#e35b47" stroke="#550d0b" stroke-width="1"/><rect x="912.5" y="376.5" width="4" height="4" fill="#e35b47" stroke="#550d0b" stroke-width="1"/><rect x="920.5" y="304.5" width="4" height="76" fill="#6fa985" stroke="#1c5a36" stroke-width="1"/><rect x="928.5" y="289.5" width="4" height="15" fill="#6fa985" stroke="#1c5a36" stroke-width="1"/><rect x="936.5" y="291.5" width="4" height="25" fill="#e35b47" stroke="#550d0b" stroke-width="1"/><rect x="944.5" y="304.5" width="4" height="11" fill="#6fa985" stroke="#1c5a36" stroke-width="1"/><rect x="952.5" y="283.5" width="4" height="21" fill="#6fa985" stroke="#1c5a36" stroke-width="1"/><rect x="960.5" y="284.5" width="4" height="13" fill="#e35b47" stroke="#550d0b" stroke-width="1"/><rect x="968.5" y="274.5" width="4" height="24" fill="#6fa985" stroke="#1c5a36" stroke-width="1"/><rect x="976.5" y="263.5" width="4" height="12" fill="#6fa985" stroke="#1c5a36" stroke-width="1"/><rect x="984.0" y="263" width="5" height="1" fill="#550d0b"/><rect x="992.5" y="239.5" width="4" height="23" fill="#6fa985" stroke="#1c5a36" stroke-width="1"/><rect x="1000.5" y="224.5" width="4" height="16" fill="#6fa985" stroke="#1c5a36" stroke-width="1"/><rect x="1008.5" y="224.5" width="4" height="19" fill="#e35b47" stroke="#550d0b" stroke-width="1"/><rect x="1016.5" y="244.5" width="4" height="3" fill="#e35b47" stroke="#550d0b" stroke-width="1"/><rect x="1024.0" y="247" width="5" height="1" fill="#1c5a36"/><rect x="1032.5" y="247.5" width="4" height="7" fill="#e35b47" stroke="#550d0b" stroke-width="1"/><rect x="1040.5" y="254.5" width="4" height="28" fill="#e35b47" stroke="#550d0b" stroke-width="1"/><rect x="1048.5" y="278.5" width="4" height="3" fill="#6fa985" stroke="#1c5a36" stroke-width="1"/><rect x="1056.5" y="275.5" width="4" height="4" fill="#6fa985" stroke="#1c5a36" stroke-width="1"/><rect x="1064.5" y="275.5" width="4" height="28" fill="#e35b47" stroke="#550d0b" stroke-width="1"/><rect x="1072.5" y="300.5" width="4" height="3" fill="#6fa985" stroke="#1c5a36" stroke-width="1"/><rect x="1080.5" y="300.5" width="4" height="9" fill="#e35b47" stroke="#550d0b" stroke-width="1"/><rect x="1088.5" y="301.5" width="4" height="8" fill="#6fa985" stroke="#1c5a36" stroke-width="1"/><rect x="1096.5" y="269.5" width="4" height="33" fill="#6fa985" stroke="#1c5a36" stroke-width="1"/><rect x="1104.5" y="261.5" width="4" height="8" fill="#6fa985" stroke="#1c5a36" stroke-width="1"/><rect x="1112.5" y="260.5" width="4" height="42" fill="#e35b47" stroke="#550d0b" stroke-width="1"/><rect x="1120.5" y="302.5" width="4" height="36" fill="#e35b47" stroke="#550d0b" stroke-width="1"/><rect x="1128.5" y="311.5" width="4" height="26" fill="#6fa985" stroke="#1c5a36" stroke-width="1"/><rect x="1136.5" y="300.5" width="4" height="11" fill="#6fa985" stroke="#1c5a36" stroke-width="1"/><rect x="1144.5" y="300.5" width="4" height="13" fill="#e35b47" stroke="#550d0b" stroke-width="1"/><rect x="1152.5" y="301.5" width="4" height="12" fill="#6fa985" stroke="#1c5a36" stroke-width="1"/><rect x="1160.5" y="301.5" width="4" height="25" fill="#e35b47" stroke="#550d0b" stroke-width="1"/><rect x="1168.5" y="314.5" width="4" height="12" fill="#6fa985" stroke="#1c5a36" stroke-width="1"/><rect x="1176.5" y="315.5" width="4" height="4" fill="#e35b47" stroke="#550d0b" stroke-width="1"/><rect x="1184.5" y="295.5" width="4" height="23" fill="#6fa985" stroke="#1c5a36" stroke-width="1"/><rect x="1192.5" y="289.5" width="4" height="7" fill="#6fa985" stroke="#1c5a36" stroke-width="1"/><rect x="1200.5" y="285.5" width="4" height="4" fill="#6fa985" stroke="#1c5a36" stroke-width="1"/><rect x="1208.5" y="260.5" width="4" height="25" fill="#6fa985" stroke="#1c5a36" stroke-width="1"/><rect x="1216.5" y="260.5" width="4" height="24" fill="#e35b47" stroke="#550d0b" stroke-width="1"/><rect x="1224.5" y="284.5" width="4" height="23" fill="#e35b47" stroke="#550d0b" stroke-width="1"/><rect x="1232.5" y="291.5" width="4" height="17" fill="#6fa985" stroke="#1c5a36" stroke-width="1"/><rect x="1240.5" y="290.5" width="4" height="2" fill="#e35b47" stroke="#550d0b" stroke-width="1"/><rect x="1248.0" y="293" width="5" height="1.6" fill="#550d0b"/><rect x="1256.5" y="293.5" width="4" height="16" fill="#e35b47" stroke="#550d0b" stroke-width="1"/><rect x="1264.5" y="308.5" width="4" height="7" fill="#e35b47" stroke="#550d0b" stroke-width="1"/><rect x="1272.5" y="316.5" width="4" height="42" fill="#e35b47" stroke="#550d0b" stroke-width="1"/><rect x="1280.5" y="358.5" width="4" height="2" fill="#e35b47" stroke="#550d0b" stroke-width="1"/><rect x="1288.5" y="341.5" width="4" height="19" fill="#6fa985" stroke="#1c5a36" stroke-width="1"/><rect x="1296.5" y="326.5" width="4" height="15" fill="#6fa985" stroke="#1c5a36" stroke-width="1"/><rect x="1305.5" y="319.5" width="4" height="7" fill="#6fa985" stroke="#1c5a36" stroke-width="1"/><rect x="1313.5" y="309.5" width="4" height="10" fill="#6fa985" stroke="#1c5a36" stroke-width="1"/><rect x="1321.5" y="306.5" width="4" height="3" fill="#6fa985" stroke="#1c5a36" stroke-width="1"/><rect x="1329.5" y="307.5" width="4" height="2" fill="#e35b47" stroke="#550d0b" stroke-width="1"/><rect x="1337.5" y="291.5" width="4" height="18" fill="#6fa985" stroke="#1c5a36" stroke-width="1"/><rect x="1345.5" y="291.5" width="4" height="7" fill="#e35b47" stroke="#550d0b" stroke-width="1"/><rect x="1353.0" y="299" width="5" height="1.6" fill="#550d0b"/><rect x="1361.5" y="293.5" width="4" height="6" fill="#6fa985" stroke="#1c5a36" stroke-width="1"/><rect x="1369.5" y="277.5" width="4" height="16" fill="#6fa985" stroke="#1c5a36" stroke-width="1"/><rect x="1377.5" y="217.5" width="4" height="61" fill="#6fa985" stroke="#1c5a36" stroke-width="1"/><rect x="1385.5" y="165.5" width="4" height="51" fill="#6fa985" stroke="#1c5a36" stroke-width="1"/><rect x="1393.5" y="144.5" width="4" height="22" fill="#6fa985" stroke="#1c5a36" stroke-width="1"/><rect x="1401.5" y="112.5" width="4" height="32" fill="#6fa985" stroke="#1c5a36" stroke-width="1"/><rect x="1409.5" y="93.5" width="4" height="19" fill="#6fa985" stroke="#1c5a36" stroke-width="1"/><rect x="1417.5" y="63.5" width="4" height="30" fill="#6fa985" stroke="#1c5a36" stroke-width="1"/><rect x="1425.0" y="63" width="5" height="1" fill="#550d0b"/>
</g>
<line x1="3" y1="63.5" x2="1460.5" y2="63.5" stroke="#ea5545" stroke-width="1" stroke-dasharray="1 2"/>
<line x1="3" y1="804.5" x2="1520" y2="804.5" stroke="#333" stroke-width="1"/>
<line x1="1460.5" y1="3" x2="1460.5" y2="832" stroke="#333" stroke-width="1"/>
<g font-size="12.3" fill="#5a5a5a">
<text x="1468.3" y="669.7" textLength="41.7" lengthAdjust="spacingAndGlyphs">1800.00</text>
<text x="1468.3" y="637.7" textLength="41.7" lengthAdjust="spacingAndGlyphs">1820.00</text>
<text x="1468.3" y="605.7" textLength="41.7" lengthAdjust="spacingAndGlyphs">1840.00</text>
<text x="1468.3" y="573.7" textLength="41.7" lengthAdjust="spacingAndGlyphs">1860.00</text>
<text x="1468.3" y="542.7" textLength="41.7" lengthAdjust="spacingAndGlyphs">1880.00</text>
<text x="1468.3" y="510.7" textLength="41.7" lengthAdjust="spacingAndGlyphs">1900.00</text>
<text x="1468.3" y="478.7" textLength="41.7" lengthAdjust="spacingAndGlyphs">1920.00</text>
<text x="1468.3" y="446.7" textLength="41.7" lengthAdjust="spacingAndGlyphs">1940.00</text>
<text x="1468.3" y="415.7" textLength="41.7" lengthAdjust="spacingAndGlyphs">1960.00</text>
<text x="1468.3" y="383.7" textLength="41.7" lengthAdjust="spacingAndGlyphs">1980.00</text>
<text x="1468.3" y="351.7" textLength="41.7" lengthAdjust="spacingAndGlyphs">2000.00</text>
<text x="1468.3" y="319.7" textLength="41.7" lengthAdjust="spacingAndGlyphs">2020.00</text>
<text x="1468.3" y="288.7" textLength="41.7" lengthAdjust="spacingAndGlyphs">2040.00</text>
<text x="1468.3" y="256.7" textLength="41.7" lengthAdjust="spacingAndGlyphs">2060.00</text>
<text x="1468.3" y="224.7" textLength="41.7" lengthAdjust="spacingAndGlyphs">2080.00</text>
<text x="1468.3" y="192.7" textLength="41.7" lengthAdjust="spacingAndGlyphs">2100.00</text>
<text x="1468.3" y="160.7" textLength="41.7" lengthAdjust="spacingAndGlyphs">2120.00</text>
<text x="1468.3" y="129.7" textLength="41.7" lengthAdjust="spacingAndGlyphs">2140.00</text>
<text x="1468.3" y="97.7" textLength="41.7" lengthAdjust="spacingAndGlyphs">2160.00</text>
<text x="1468.3" y="65.7" textLength="41.7" lengthAdjust="spacingAndGlyphs">2180.00</text>
<text x="1468.3" y="714.6" textLength="29.5" lengthAdjust="spacingAndGlyphs">20.00</text>
<text x="1473.3" y="773.6" textLength="23.5" lengthAdjust="spacingAndGlyphs">0.00</text>
</g>
<path d="M1460.5 210.0H1514a2 2 0 0 1 2 2v13a2 2 0 0 1 -2 2H1460.5z" fill="#000"/>
<path d="M1460.5 226.9H1514a2 2 0 0 1 2 2v13a2 2 0 0 1 -2 2H1460.5z" fill="#000"/>
<path d="M1460.5 270.4H1514a2 2 0 0 1 2 2v13a2 2 0 0 1 -2 2H1460.5z" fill="#000"/>
<path d="M1460.5 287.9H1514a2 2 0 0 1 2 2v13a2 2 0 0 1 -2 2H1460.5z" fill="#000"/>
<path d="M1460.5 324.0H1514a2 2 0 0 1 2 2v13a2 2 0 0 1 -2 2H1460.5z" fill="#000"/>
<path d="M1460.5 362.9H1514a2 2 0 0 1 2 2v13a2 2 0 0 1 -2 2H1460.5z" fill="#000"/>
<path d="M1460.5 403.1H1514a2 2 0 0 1 2 2v13a2 2 0 0 1 -2 2H1460.5z" fill="#000"/>
<path d="M1460.5 446.0H1514a2 2 0 0 1 2 2v13a2 2 0 0 1 -2 2H1460.5z" fill="#000"/>
<path d="M1460.5 462.9H1514a2 2 0 0 1 2 2v13a2 2 0 0 1 -2 2H1460.5z" fill="#000"/>
<path d="M1460.5 508.9H1514a2 2 0 0 1 2 2v13a2 2 0 0 1 -2 2H1460.5z" fill="#000"/>
<path d="M1460.5 525.5H1514a2 2 0 0 1 2 2v13a2 2 0 0 1 -2 2H1460.5z" fill="#000"/>
<path d="M1460.5 648.7H1514a2 2 0 0 1 2 2v13a2 2 0 0 1 -2 2H1460.5z" fill="#000"/>
<rect x="1460.5" y="287.3" width="55.5" height="0.8" fill="#fff"/>
<g font-size="12.1" font-weight="bold" fill="#fff">
<text x="1468.3" y="222.7" textLength="41.7" lengthAdjust="spacingAndGlyphs">2081.00</text>
<text x="1468.3" y="239.6" textLength="41.7" lengthAdjust="spacingAndGlyphs">2070.42</text>
<text x="1468.3" y="283.1" textLength="41.7" lengthAdjust="spacingAndGlyphs">2043.61</text>
<text x="1468.3" y="300.6" textLength="41.7" lengthAdjust="spacingAndGlyphs">2032.13</text>
<text x="1468.3" y="336.7" textLength="41.7" lengthAdjust="spacingAndGlyphs">2009.75</text>
<text x="1468.3" y="375.6" textLength="41.7" lengthAdjust="spacingAndGlyphs">1984.78</text>
<text x="1468.3" y="415.8" textLength="41.7" lengthAdjust="spacingAndGlyphs">1959.74</text>
<text x="1468.3" y="458.7" textLength="41.7" lengthAdjust="spacingAndGlyphs">1932.49</text>
<text x="1468.3" y="475.6" textLength="41.7" lengthAdjust="spacingAndGlyphs">1931.57</text>
<text x="1468.3" y="521.6" textLength="41.7" lengthAdjust="spacingAndGlyphs">1893.12</text>
<text x="1468.3" y="538.2" textLength="41.7" lengthAdjust="spacingAndGlyphs">1885.03</text>
<text x="1468.3" y="661.4" textLength="41.7" lengthAdjust="spacingAndGlyphs">1804.78</text>
</g>
<rect x="1464.5" y="7.5" width="51" height="25" rx="4" fill="#fff" stroke="#e0e3eb" stroke-width="1.2"/>
<text x="1468.5" y="23.9" font-size="12.6" fill="#131722" textLength="20.1" lengthAdjust="spacingAndGlyphs">USD</text>
<path d="M1506 19.2l2.5 2.4 2.5-2.4" fill="none" stroke="#131722" stroke-width="1.5"/>
<g font-size="12.3" fill="#555" text-anchor="middle">
<text x="65.5" y="821.8" textLength="11.3" lengthAdjust="spacingAndGlyphs">17</text>
<text x="153.5" y="821.8" textLength="19.8" lengthAdjust="spacingAndGlyphs">Aug</text>
<text x="233.5" y="821.8" textLength="11.3" lengthAdjust="spacingAndGlyphs">15</text>
<text x="337.5" y="821.8" textLength="19.2" lengthAdjust="spacingAndGlyphs">Sep</text>
<text x="425.5" y="821.8" textLength="11.3" lengthAdjust="spacingAndGlyphs">18</text>
<text x="505.5" y="821.8" textLength="18.6" lengthAdjust="spacingAndGlyphs">Oct</text>
<text x="586.5" y="821.8" textLength="11.3" lengthAdjust="spacingAndGlyphs">16</text>
<text x="682.5" y="821.8" textLength="20.2" lengthAdjust="spacingAndGlyphs">Nov</text>
<text x="762.5" y="821.8" textLength="11.3" lengthAdjust="spacingAndGlyphs">15</text>
<text x="858.5" y="821.8" textLength="19.8" lengthAdjust="spacingAndGlyphs">Dec</text>
<text x="946.5" y="821.8" textLength="11.3" lengthAdjust="spacingAndGlyphs">18</text>
<text x="1026.5" y="821.8" font-weight="bold" fill="#444" textLength="25.6" lengthAdjust="spacingAndGlyphs">2024</text>
<text x="1106.5" y="821.8" textLength="11.3" lengthAdjust="spacingAndGlyphs">15</text>
<text x="1210.5" y="821.8" textLength="19.0" lengthAdjust="spacingAndGlyphs">Feb</text>
<text x="1290.5" y="821.8" textLength="11.3" lengthAdjust="spacingAndGlyphs">15</text>
<text x="1379.5" y="821.8" textLength="20.0" lengthAdjust="spacingAndGlyphs">Mar</text>
<text x="1455.8" y="821.8">1</text>
</g>
<circle cx="21" cy="18.9" r="9" fill="#d1980b"/>
<path d="M19.3 15.1h3.5l1.4 2.6h-6.3zM15.9 19h4.1l1.4 3h-6.9zM22.1 19h4.1l1.4 3h-6.9z" fill="#fff"/>
<text x="34.3" y="25.2" font-size="15.8" fill="#4d4d4d" textLength="244" lengthAdjust="spacingAndGlyphs">CFDs on Gold (US$ / OZ) · 1D · TVC</text>
<circle cx="303" cy="18.9" r="8.8" fill="#d9f0eb"/><circle cx="303" cy="18.9" r="4" fill="#089981"/>
<g font-size="13.2">
<text x="328.7" y="24" fill="#555" textLength="9.3" lengthAdjust="spacingAndGlyphs">O</text>
<text x="338.7" y="24" fill="#7a2c2c" textLength="45" lengthAdjust="spacingAndGlyphs">2179.03</text>
<text x="390.7" y="24" fill="#555" textLength="8.6" lengthAdjust="spacingAndGlyphs">H</text>
<text x="400.4" y="24" fill="#7a2c2c" textLength="45" lengthAdjust="spacingAndGlyphs">2188.99</text>
<text x="452" y="24" fill="#555" textLength="6.6" lengthAdjust="spacingAndGlyphs">L</text>
<text x="459.5" y="24" fill="#7a2c2c" textLength="45" lengthAdjust="spacingAndGlyphs">2176.97</text>
<text x="511.2" y="24" fill="#555" textLength="8.3" lengthAdjust="spacingAndGlyphs">C</text>
<text x="520" y="24" fill="#7a2c2c" textLength="45" lengthAdjust="spacingAndGlyphs">2178.89</text>
<text x="572.5" y="24" fill="#7a2c2c" textLength="30" lengthAdjust="spacingAndGlyphs">−0.07</text>
<text x="608.7" y="24" fill="#7a2c2c" textLength="47.5" lengthAdjust="spacingAndGlyphs">(−0.00%)</text>
</g>
<rect x="11.6" y="35.6" width="61" height="23" rx="4" fill="#fff" stroke="#f23645" stroke-width="1.1"/>
<text x="19.3" y="52" font-size="13" fill="#f23645" textLength="45" lengthAdjust="spacingAndGlyphs">2178.97</text>
<text x="80.8" y="51.3" font-size="10.6" fill="#131722" textLength="10.8" lengthAdjust="spacingAndGlyphs">23</text>
<rect x="100.6" y="35.6" width="61" height="23" rx="4" fill="#fff" stroke="#2962ff" stroke-width="1.1"/>
<text x="108.4" y="52" font-size="13" fill="#2962ff" textLength="45" lengthAdjust="spacingAndGlyphs">2179.21</text>
<text x="12" y="79.8" font-size="12.7" fill="#555" textLength="383" lengthAdjust="spacingAndGlyphs">MA Ribbon SMA close 20 SMA close 50 SMA close 100 SMA close 200</text>
<text x="403" y="79.8" font-size="12.7" fill="#f23645" textLength="45.5" lengthAdjust="spacingAndGlyphs">2062.94</text>
<text x="455" y="79.8" font-size="12.7" fill="#2962ff" textLength="45" lengthAdjust="spacingAndGlyphs">2044.52</text>
<text x="507" y="79.6" font-size="10.5" fill="#131722">∅</text>
<text x="521.5" y="79.8" font-size="12.7" fill="#131722" textLength="45" lengthAdjust="spacingAndGlyphs">1974.45</text>
<rect x="12.4" y="89.6" width="28" height="20" rx="3" fill="#fff" stroke="#d5d8e0" stroke-width="1"/>
<path d="M23 101.7l3.3-3.3 3.3 3.3" fill="none" stroke="#131722" stroke-width="1.3"/>
<text x="12" y="705.1" font-size="12.4" fill="#555" textLength="67.2" lengthAdjust="spacingAndGlyphs">ATR 14 RMA</text>
<text x="87.8" y="705.1" font-size="12.4" fill="#b71c1c" textLength="31.3" lengthAdjust="spacingAndGlyphs">23.49</text>
<text x="12" y="749.2" font-size="12.4" fill="#555" textLength="101.5" lengthAdjust="spacingAndGlyphs">CCI 20 hlc3 SMA 5</text>
<text x="122.6" y="749.2" font-size="12.4" fill="#2962ff" textLength="37.8" lengthAdjust="spacingAndGlyphs">151.88</text>
<g stroke="#fff" stroke-width="3.8" stroke-linejoin="round" fill="#131722" paint-order="stroke"><path d="M15 775h11.9v14.9h-5.9v-9.1h-6z"/><circle cx="32" cy="778" r="2.9"/><path d="M38.3 775h6.6l-6 14.9h-6.8z"/></g>
<g clip-path="url(#cw)" font-style="italic">
<filter id="ws" x="-5%" y="-30%" width="112%" height="160%" color-interpolation-filters="sRGB"><feComponentTransfer in="SourceAlpha" result="a1"><feFuncA type="linear" slope="12"/></feComponentTransfer><feOffset in="a1" dx="2.5" dy="2.1" result="off"/><feGaussianBlur in="off" stdDeviation="0.8" result="blur"/><feComposite in="blur" in2="a1" operator="out" result="sh"/><feComponentTransfer in="sh" result="sh2"><feFuncA type="linear" slope="0.5"/></feComponentTransfer><feMerge><feMergeNode in="sh2"/><feMergeNode in="SourceGraphic"/></feMerge></filter>
<g transform="translate(1280 790) skewX(-14)"><text x="0" y="0" font-family='"Noto Sans CJK SC","Liberation Sans",sans-serif' font-weight="900" font-size="58" fill="#fff" fill-opacity="0.62" font-style="normal" filter="url(#ws)" textLength="236" lengthAdjust="spacingAndGlyphs">海马财经</text></g>
<text x="1287.5 1314.3 1342.3 1367.3 1387.2 1419.5 1445.4 1465 1490.8" y="829.6" font-family='"DejaVu Sans","Liberation Sans",sans-serif' font-size="31.5" font-weight="bold" fill="#8ec5fc" fill-opacity="0.92" font-style="italic" style="filter:drop-shadow(1.6px 1.4px 0 rgba(127,147,204,0.95))">zzrt01.cn</text>
</g>
<g transform="translate(1490.4 818.4)" fill="none" stroke="#131722" stroke-width="1.2" opacity="0.9"><path d="M-3.7 -6.1h7.4l3.7 6.1-3.7 6.1h-7.4l-3.7-6.1z"/><circle r="2.2"/></g>
</svg>
</body></html>
